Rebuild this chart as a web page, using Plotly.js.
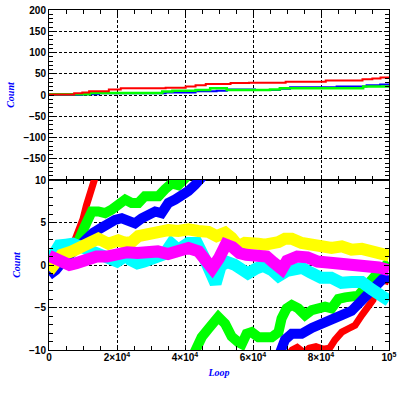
<!DOCTYPE html>
<html><head><meta charset="utf-8">
<script src="https://cdn.plot.ly/plotly-3.0.1.min.js"></script>
<style>html,body{margin:0;padding:0;background:#fff;} #chart{width:399px;height:399px;}</style>
</head><body><div id="chart"></div>
<script>
// ---- top panel: cumulative counts (step lines) ----
const topRedX = [0, 7400, 9800, 11800, 17600, 21100, 34300, 40200, 43100, 46100, 53400, 58800, 69600, 81400, 92200, 95100, 97500, 100000];
const topRedY = [1, 4, 6, 9, 13, 16, 17, 20, 23, 26, 28, 29, 31, 34, 37, 39, 41, 42];
const topGreenX = [0, 12000, 33300, 36300, 43100, 47400, 52300, 65000, 67900, 92400, 100000];
const topGreenY = [2, 5, 8, 10, 12, 16, 12, 13, 16, 20, 21];
const topBlueX = [0, 9800, 14700, 34300, 43100, 49300, 52300, 60600, 67900, 70900, 84600, 93400, 97400, 100000];
const topBlueY = [0, 2, 4, 6, 9, 10, 13, 12, 15, 18, 20, 23, 25, 25];

// ---- bottom panel: deviations (band centres) ----
const redX = [0, 2500, 5000, 7000, 8500, 10000, 11000, 12000, 13500, 14500, 15000, 70000, 71500, 73000, 75000, 76500, 78500, 80500, 82500, 84100, 86100, 88000, 90000, 92000, 93900, 95300, 96800, 98500, 100000];
const redY = [0.2, 0.8, 1.6, 2.3, 3.7, 5.4, 7.0, 8.4, 10.1, 11.5, null, -10.8, -10.0, -9.7, -10.3, -9.8, -9.6, -9.9, -9.8, -8.8, -7.9, -7.5, -7.1, -5.9, -4.7, -4.1, -2.2, -1.8, -2.0];

const greenX = [0, 3000, 6000, 8600, 10600, 12600, 14500, 16500, 18400, 20400, 22400, 24300, 26300, 28200, 30200, 32200, 34100, 36100, 38000, 40000, 41500, 42000, 42200, 44900, 46900, 48800, 49800, 51800, 53700, 55700, 56700, 58100, 59600, 61600, 63500, 65500, 67500, 68400, 69900, 71400, 73300, 75300, 77300, 79200, 81200, 83100, 85100, 87100, 89000, 91000, 93000, 95000, 97000, 100000];
const greenY = [0.0, 1.0, 2.0, 2.8, 4.6, 6.3, 6.3, 6.1, 6.5, 7.3, 7.7, 7.3, 7.3, 8.1, 8.1, 8.1, 8.9, 9.6, 9.4, 10.0, 10.8, null, -10.8, -8.5, -7.5, -6.5, -6.1, -6.9, -8.4, -9.1, -9.3, -8.1, -7.9, -8.5, -8.5, -8.5, -7.9, -6.3, -5.1, -4.7, -5.1, -5.9, -5.3, -5.1, -4.9, -5.1, -4.0, -3.8, -3.8, -3.6, -2.6, -1.6, -0.8, 0.3];

const blueX = [0, 2000, 4000, 6000, 8000, 10000, 11500, 13000, 15500, 17500, 19400, 21400, 23300, 25300, 27300, 29200, 31200, 33100, 35100, 37100, 39000, 41000, 42900, 44900, 46000, 46500, 67500, 68500, 69400, 71400, 74300, 77300, 80200, 83100, 86100, 89000, 91000, 93000, 95000, 96500, 98000, 100000];
const blueY = [-1.2, -0.6, 0.4, 1.2, 2.0, 2.7, 3.3, 3.8, 4.4, 4.9, 5.3, 5.5, 5.3, 4.9, 5.5, 5.9, 6.3, 6.1, 7.3, 7.7, 8.1, 8.7, 9.4, 10.0, 10.8, null, -10.8, -9.9, -8.8, -8.1, -8.1, -7.4, -7.0, -6.3, -5.9, -5.4, -4.6, -4.0, -3.0, -2.2, -1.7, -1.3];

const cyanX = [0, 1000, 3000, 5000, 7000, 9000, 12000, 15000, 18000, 20000, 21500, 22700, 24000, 26000, 28000, 31000, 34000, 36000, 38000, 41000, 43500, 45500, 47500, 49000, 50500, 52500, 54500, 56500, 58500, 61000, 63000, 65500, 67500, 70000, 72500, 74500, 77000, 80000, 83000, 86000, 89000, 92000, 95000, 98000, 100000];
const cyanY = [0.3, 1.2, 2.3, 2.4, 2.5, 2.2, 1.8, 1.3, 0.8, 0.4, 0.8, 1.6, 0.6, 0.2, 0.4, 0.9, 1.3, 2.5, 1.8, 2.6, 2.6, 1.0, -1.4, -2.2, -0.1, 0.35, 0.05, -0.7, -1.0, -0.4, -0.1, -0.6, -1.3, -0.7, -0.3, -0.35, -0.9, -1.5, -1.5, -2.1, -2.0, -2.0, -2.9, -3.5, -4.2];

const yellowX = [0, 1000, 2000, 3700, 6700, 9600, 12600, 14500, 17500, 20400, 22400, 24300, 26300, 29200, 32200, 35100, 38000, 41000, 43900, 46900, 49300, 51800, 53700, 55700, 57600, 59600, 61600, 63500, 65500, 67500, 69400, 71400, 74300, 77300, 80200, 83100, 86100, 89000, 92000, 94900, 97900, 100000];
const yellowY = [-0.7, -0.2, 0.5, 1.2, 1.6, 2.1, 2.9, 3.1, 2.5, 2.9, 2.6, 2.7, 3.4, 3.7, 3.7, 4.1, 4.0, 4.2, 4.0, 3.9, 3.4, 3.8, 3.2, 2.2, 2.6, 2.7, 2.5, 2.4, 2.5, 2.7, 3.1, 3.1, 2.6, 2.4, 2.2, 2.0, 2.2, 1.8, 1.9, 1.6, 1.4, 1.1];

const magentaX = [0, 2000, 4000, 6000, 8000, 10000, 12000, 14000, 17000, 20000, 23000, 26000, 29000, 32000, 35000, 38000, 41000, 44000, 46500, 48000, 50000, 52000, 54000, 56000, 58000, 61000, 64000, 66000, 68500, 70000, 73000, 76000, 79000, 82000, 85000, 88000, 91000, 94000, 97000, 100000];
const magentaY = [1.1, 0.6, 0.1, 0.0, 0.2, 0.5, 0.7, 1.0, 1.0, 1.3, 1.5, 1.4, 1.6, 1.6, 1.3, 1.7, 2.0, 1.6, 0.6, -0.4, 0.8, 2.4, 2.1, 1.4, 1.2, 1.2, 1.0, 0.3, -0.5, 0.5, 1.0, 0.9, 0.4, 0.3, 0.2, 0.0, 0.1, 0.1, -0.3, -0.6];

// ---- ticks ----
const xTickVals = [0, 20000, 40000, 60000, 80000, 100000];
const xTickText = ['0', '2×10<sup>4</sup>', '4×10<sup>4</sup>', '6×10<sup>4</sup>', '8×10<sup>4</sup>', '10<sup>5</sup>'];
const topYTicks = [-150, -100, -50, 0, 50, 100, 150, 200];
const botYTicks = [-10, -5, 0, 5, 10];

const RED = '#ff0000', GREEN = '#00ff00', BLUE = '#0000ff', CYAN = '#00ffff', YELLOW = '#ffff00', MAGENTA = '#ff00ff';

function stepTrace(x, y, c, w) {
  return {x: x, y: y, type: 'scatter', mode: 'lines', xaxis: 'x', yaxis: 'y',
          line: {color: c, width: w, shape: 'hv'}, hoverinfo: 'skip'};
}
function band(x, y, c, w) {
  return {x: x, y: y, type: 'scatter', mode: 'lines', xaxis: 'x2', yaxis: 'y2',
          connectgaps: false, line: {color: c, width: w}, hoverinfo: 'skip'};
}

const data = [
  stepTrace(topBlueX, topBlueY, BLUE, 2),
  stepTrace(topGreenX, topGreenY, GREEN, 2.5),
  stepTrace(topRedX, topRedY, RED, 2),
  band(redX, redY, RED, 7),
  band(greenX, greenY, GREEN, 10),
  band(blueX, blueY, BLUE, 10),
  band(cyanX, cyanY, CYAN, 12),
  band(yellowX, yellowY, YELLOW, 12),
  band(magentaX, magentaY, MAGENTA, 12)
];

const tickFont = {family: 'Liberation Sans, Arial, sans-serif', size: 10, color: 'black', weight: 'bold'};
const titleFont = {family: 'Liberation Serif, Times New Roman, serif', size: 10, color: BLUE, style: 'italic', weight: 'bold'};
const common = {
  showline: true, linecolor: 'black', linewidth: 1, mirror: 'ticks',
  ticks: 'inside', ticklen: 5, tickcolor: 'black', tickwidth: 1,
  showgrid: true, gridcolor: 'black', gridwidth: 1, griddash: '3px,2px',
  zeroline: false, tickfont: tickFont, fixedrange: true
};

const layout = {
  width: 399, height: 399,
  margin: {l: 49, r: 10, t: 10, b: 49},
  paper_bgcolor: 'white', plot_bgcolor: 'white', showlegend: false,
  xaxis: Object.assign({}, common, {
    anchor: 'y', range: [0, 100000], tickmode: 'array', tickvals: xTickVals, showticklabels: false,
    minor: {tickmode: 'linear', tick0: 0, dtick: 5000, ticks: 'inside', ticklen: 4, tickcolor: 'black', showgrid: false}
  }),
  yaxis: Object.assign({}, common, {
    anchor: 'x', domain: [0.5, 1], range: [-200, 200], tickmode: 'array', tickvals: topYTicks,
    minor: {tickmode: 'linear', tick0: 0, dtick: 10, ticks: 'inside', ticklen: 4, tickcolor: 'black', showgrid: false},
    title: {text: 'Count', font: titleFont, standoff: 6}
  }),
  xaxis2: Object.assign({}, common, {
    anchor: 'y2', range: [0, 100000], tickmode: 'array', tickvals: xTickVals, ticktext: xTickText,
    ticklabelstandoff: -2,
    minor: {tickmode: 'linear', tick0: 0, dtick: 5000, ticks: 'inside', ticklen: 4, tickcolor: 'black', showgrid: false},
    title: {text: 'Loop', font: titleFont, standoff: 6}
  }),
  yaxis2: Object.assign({}, common, {
    anchor: 'x2', domain: [0, 0.5], range: [-10, 10], tickmode: 'array', tickvals: botYTicks,
    minor: {tickmode: 'linear', tick0: 0, dtick: 1, ticks: 'inside', ticklen: 4, tickcolor: 'black', showgrid: false},
    title: {text: 'Count', font: titleFont, standoff: 6}
  })
};

Plotly.newPlot('chart', data, layout, {displayModeBar: false, staticPlot: true});
</script></body></html>
